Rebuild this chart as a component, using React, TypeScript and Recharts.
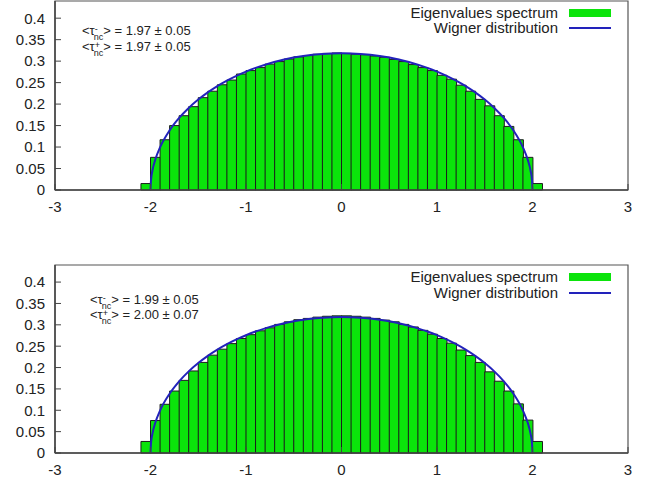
import React from 'react';
import { ComposedChart, Bar, Line, XAxis, YAxis, ReferenceArea } from 'recharts';

// histogram bins, width 0.1
const BIN_CENTERS = [
  -2.05, -1.95, -1.85, -1.75, -1.65, -1.55, -1.45, -1.35, -1.25, -1.15, -1.05,
  -0.95, -0.85, -0.75, -0.65, -0.55, -0.45, -0.35, -0.25, -0.15, -0.05,
  0.05, 0.15, 0.25, 0.35, 0.45, 0.55, 0.65, 0.75, 0.85, 0.95,
  1.05, 1.15, 1.25, 1.35, 1.45, 1.55, 1.65, 1.75, 1.85, 1.95, 2.05,
];

const SPECTRUM_TOP = [
  0.015, 0.076, 0.117, 0.150, 0.173, 0.194, 0.215, 0.230, 0.245, 0.256, 0.270,
  0.278, 0.285, 0.293, 0.299, 0.305, 0.310, 0.313, 0.316, 0.318, 0.319,
  0.318, 0.316, 0.315, 0.312, 0.309, 0.304, 0.299, 0.292, 0.285, 0.278,
  0.267, 0.258, 0.244, 0.230, 0.211, 0.196, 0.173, 0.148, 0.117, 0.076, 0.015,
];

const SPECTRUM_BOTTOM = [
  0.027, 0.076, 0.114, 0.145, 0.170, 0.192, 0.212, 0.229, 0.243, 0.256, 0.268,
  0.277, 0.286, 0.293, 0.301, 0.307, 0.312, 0.315, 0.318, 0.320, 0.321,
  0.321, 0.320, 0.318, 0.315, 0.311, 0.307, 0.301, 0.295, 0.287, 0.278,
  0.268, 0.257, 0.241, 0.228, 0.212, 0.190, 0.168, 0.145, 0.115, 0.077, 0.027,
];

const WIGNER_X = [
  -2, -1.995, -1.98, -1.95, -1.9, -1.8, -1.7, -1.6, -1.5, -1.4, -1.3, -1.2, -1.1,
  -1.0, -0.9, -0.8, -0.6, -0.4, -0.2, 0, 0.2, 0.4, 0.6, 0.8, 0.9, 1.0, 1.1, 1.2,
  1.3, 1.4, 1.5, 1.6, 1.7, 1.8, 1.9, 1.95, 1.98, 1.995, 2,
];
const WIGNER_Y = [
  0, 0.0225, 0.0449, 0.0707, 0.0994, 0.1388, 0.1677, 0.191, 0.2105, 0.2273, 0.2419,
  0.2546, 0.2658, 0.2757, 0.2843, 0.2917, 0.3037, 0.3119, 0.3167, 0.3183, 0.3167,
  0.3119, 0.3037, 0.2917, 0.2843, 0.2757, 0.2658, 0.2546, 0.2419, 0.2273, 0.2105,
  0.191, 0.1677, 0.1388, 0.0994, 0.0707, 0.0449, 0.0225, 0,
];

const X_TICKS = [-3, -2, -1, 0, 1, 2, 3];
const Y_TICKS = [0, 0.05, 0.1, 0.15, 0.2, 0.25, 0.3, 0.35, 0.4];

const LEGEND_LABELS = ['Eigenvalues spectrum', 'Wigner distribution'];

const TAU_TOP = [
  { sign: '-', mean: '1.97', err: '0.05' },
  { sign: '+', mean: '1.97', err: '0.05' },
];
const TAU_BOTTOM = [
  { sign: '-', mean: '1.99', err: '0.05' },
  { sign: '+', mean: '2.00', err: '0.07' },
];

const GREEN = '#0be40b';
const BLUE = '#2222bb';
const FONT = '"Liberation Sans", Arial, Helvetica, sans-serif';

const wignerData = WIGNER_X.map((x, i) => ({ x, w: WIGNER_Y[i] }));

type Tau = { sign: string; mean: string; err: string };

function TauLine({ t, top, left }: { t: Tau; top: number; left: number }) {
  return (
    <div style={{ position: 'absolute', top: top - 8, left, fontSize: 13, lineHeight: '16px', color: '#222', whiteSpace: 'nowrap' }}>
      {'<τ'}
      <span style={{ display: 'inline-block', verticalAlign: '-5px', fontSize: 9, lineHeight: '8px', marginLeft: -1 }}>
        <span style={{ display: 'block', paddingLeft: 1 }}>{t.sign}</span>
        <span style={{ display: 'block' }}>nc</span>
      </span>
      {`> = ${t.mean} ± ${t.err}`}
    </div>
  );
}

function Panel({ top, height, marginTop, values, tau, legendY, noteY, noteX }: {
  top: number; height: number; marginTop: number; values: number[]; tau: Tau[];
  legendY: number[]; noteY: number[]; noteX: number;
}) {
  const data = BIN_CENTERS.map((x, i) => ({ x, y: values[i] }));
  return (
    <div style={{ position: 'absolute', top, left: 0, width: 652, height }}>
      <ComposedChart
        width={652}
        height={height}
        data={data}
        barCategoryGap={0}
        barGap={0}
        margin={{ top: marginTop, right: 24, bottom: 0, left: 0 }}
      >
        <XAxis
          dataKey="x"
          type="number"
          domain={[-3, 3]}
          ticks={X_TICKS}
          interval={0}
          height={32}
          tickSize={-6}
          tickMargin={17}
          axisLine={{ stroke: '#444', strokeWidth: 1.5 }}
          tickLine={{ stroke: '#444' }}
          tick={{ fill: '#222', fontSize: 15 }}
        />
        <XAxis xAxisId="w" dataKey="x" type="number" domain={[-3, 3]} hide />
        <YAxis
          type="number"
          domain={[0, 0.44]}
          ticks={Y_TICKS}
          interval={0}
          width={55}
          tickSize={-6}
          tickMargin={16}
          axisLine={{ stroke: '#444', strokeWidth: 1.5 }}
          tickLine={{ stroke: '#444' }}
          tick={{ fill: '#222', fontSize: 15 }}
        />
        <ReferenceArea x1={-3} x2={3} y1={0} y2={0.44} fill="none" stroke="#555" strokeWidth={1.2} />
        <Bar dataKey="y" fill={GREEN} stroke="#1d1d1d" strokeWidth={1} isAnimationActive={false} />
        <Line
          xAxisId="w"
          data={wignerData}
          dataKey="w"
          type="monotone"
          stroke={BLUE}
          strokeWidth={2}
          dot={false}
          isAnimationActive={false}
        />
      </ComposedChart>
      {LEGEND_LABELS.map((label, i) => (
        <div key={label} style={{ position: 'absolute', right: 94, top: legendY[i] - top - 9, fontSize: 15, lineHeight: '18px', color: '#222', whiteSpace: 'nowrap' }}>
          {label}
        </div>
      ))}
      <div style={{ position: 'absolute', left: 569, top: legendY[0] - top - 4, width: 42, height: 8, background: GREEN }} />
      <div style={{ position: 'absolute', left: 569, top: legendY[1] - top - 1, width: 42, height: 2, background: BLUE }} />
      {tau.map((t, i) => (
        <TauLine key={i} t={t} top={noteY[i] - top} left={noteX} />
      ))}
    </div>
  );
}

export default function App() {
  return (
    <div style={{ position: 'absolute', left: 0, top: 0, width: 652, height: 485, background: '#fff', fontFamily: FONT, overflow: 'hidden' }}>
      <Panel top={0} height={222} marginTop={1} values={SPECTRUM_TOP} tau={TAU_TOP} legendY={[13, 28]} noteY={[31, 47]} noteX={82} />
      <Panel top={250} height={235} marginTop={15} values={SPECTRUM_BOTTOM} tau={TAU_BOTTOM} legendY={[277, 293]} noteY={[300, 315]} noteX={90} />
    </div>
  );
}
